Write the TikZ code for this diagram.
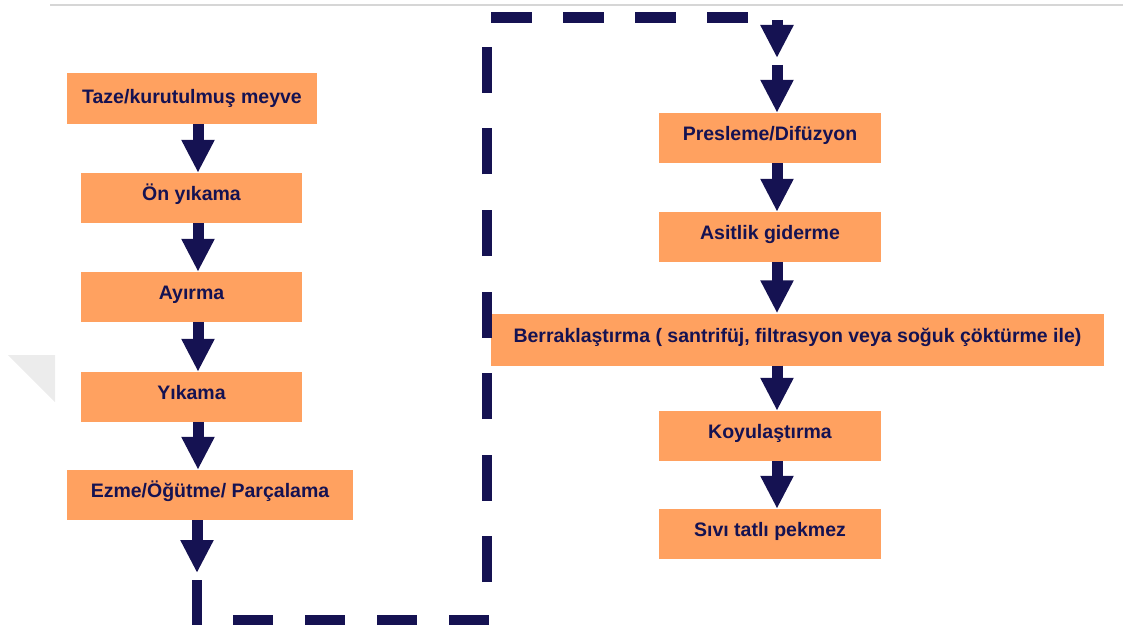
\documentclass[tikz,border=0pt]{standalone}
\usepackage{fontspec}
\setmainfont{Liberation Sans}
\usetikzlibrary{arrows.meta}
\definecolor{navy}{RGB}{21,18,82}
\definecolor{boxfill}{RGB}{255,161,96}
\definecolor{rulegray}{RGB}{214,214,214}
\definecolor{shadegray}{RGB}{236,236,236}
\begin{document}
\begin{tikzpicture}[x=1pt,y=-1pt,
  stepbox/.style={fill=boxfill, inner sep=0pt, align=center, text=navy,
    text height=14pt, text depth=9pt,
    font=\fontsize{19.5}{23}\selectfont\bfseries},
  blk/.style={draw=navy, line width=11pt, -{Triangle[width=31pt,length=33pt]}},
  dl/.style={draw=navy, line width=10.5pt}]
\useasboundingbox (0,0) rectangle (1123,631);
% decorations
\draw[rulegray, line width=1.5pt] (50,5) -- (1123,5);
\fill[shadegray] (8,355) -- (55,355) -- (55,402) -- cycle;
% left column
\node[stepbox, text height=14pt, text depth=4pt, minimum width=250pt, minimum height=51pt] (t1) at (192,98.5) {Taze/kurutulmuş meyve};
\node[stepbox, minimum width=221pt, minimum height=50pt] (t2) at (191.5,198) {Ön yıkama};
\node[stepbox, minimum width=221pt, minimum height=50pt] (t3) at (191.5,297) {Ayırma};
\node[stepbox, minimum width=221pt, minimum height=50pt] (t4) at (191.5,397) {Yıkama};
\node[stepbox, minimum width=286pt, minimum height=50pt] (t5) at (210,495) {Ezme/Öğütme/ Parçalama};
% right column
\node[stepbox, minimum width=222pt, minimum height=50pt] (r1) at (770,138) {Presleme/Difüzyon};
\node[stepbox, minimum width=222pt, minimum height=50pt] (r2) at (770,237) {Asitlik giderme};
\node[stepbox, minimum width=613pt, minimum height=52pt] (r3) at (797.5,339.5) {Berraklaştırma ( santrifüj, filtrasyon veya soğuk çöktürme ile)};
\node[stepbox, minimum width=222pt, minimum height=50pt] (r4) at (770,436) {Koyulaştırma};
\node[stepbox, minimum width=222pt, minimum height=50pt] (r5) at (770,534) {Sıvı tatlı pekmez};
% axes for arrows
\coordinate (ax) at (198,0);
\coordinate (bx) at (777,0);
% left arrows
\draw[blk] (t1.south -| ax) -- (t2.north -| ax);
\draw[blk] (t2.south -| ax) -- (t3.north -| ax);
\draw[blk] (t3.south -| ax) -- (t4.north -| ax);
\draw[blk] (t4.south -| ax) -- (t5.north -| ax);
\coordinate (e1) at (197,573);
\draw[blk] (t5.south -| e1) -- (e1);
% dashed connector
\coordinate (d0) at (197,580);
\coordinate (d1) at (197,625);
\coordinate (d2) at (202,620);
\coordinate (d3) at (492,620);
\coordinate (d4) at (487,582);
\coordinate (d5) at (487,47);
\coordinate (d6) at (491,17.5);
\coordinate (d7) at (749,17.5);
\draw[dl] (d0) -- (d1);
\draw[dl, dash pattern=on 40pt off 32pt, dash phase=41pt] (d2) -- (d3);
\draw[dl, dash pattern=on 46pt off 35.5pt] (d4) -- (d5);
\draw[dl, dash pattern=on 41pt off 31pt] (d6) -- (d7);
% right arrows
\coordinate (a0) at (777,20);
\coordinate (a1) at (777,58);
\coordinate (a2) at (777,65);
\draw[blk] (a0) -- (a1);
\draw[blk] (a2) -- (r1.north -| bx);
\draw[blk] (r1.south -| bx) -- (r2.north -| bx);
\draw[blk] (r2.south -| bx) -- (r3.north -| bx);
\draw[blk] (r3.south -| bx) -- (r4.north -| bx);
\draw[blk] (r4.south -| bx) -- (r5.north -| bx);
\end{tikzpicture}
\end{document}
